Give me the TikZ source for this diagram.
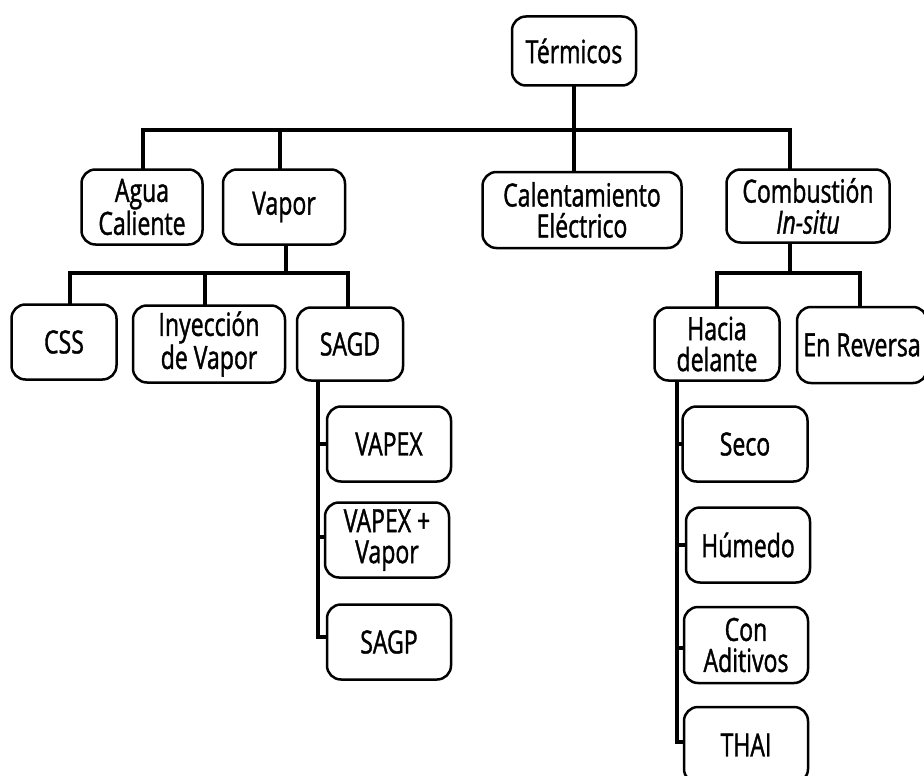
\documentclass[tikz,border=0pt]{standalone}
\usepackage{fontspec}
\setmainfont[FakeStretch=0.72, FakeBold=1.2]{Open Sans}
\begin{document}
\begin{tikzpicture}[x=1pt,y=-1pt,
  box/.style={draw, line width=2.5pt, rounded corners=14pt, align=center, inner sep=0pt,
    font=\fontsize{32}{31}\selectfont},
  conn/.style={line width=3.2pt, line cap=rect}]
\useasboundingbox (0,0) rectangle (924,776);

% top level
\node[box, minimum width=124pt, minimum height=69pt] (term) at (574,51) {Térmicos};

% second level
\node[box, minimum width=121pt, minimum height=75pt] (agua) at (142,207) {Agua\\Caliente};
\node[box, minimum width=122pt, minimum height=75pt] (vapor) at (284,207) {Vapor};
\node[box, minimum width=199pt, minimum height=76pt] (calent) at (582,210) {Calentamiento\\Eléctrico};
\node[box, minimum width=163pt, minimum height=73pt] (comb) at (808,206) {Combustión\\\textit{In-situ}};

% steam branch
\node[box, minimum width=105pt, minimum height=75pt] (css) at (64,342) {CSS};
\node[box, minimum width=152pt, minimum height=77pt] (iny) at (209,344) {Inyección\\de Vapor};
\node[box, minimum width=106pt, minimum height=73pt] (sagd) at (350,344) {SAGD};
\node[box, minimum width=124pt, minimum height=75pt] (vapex) at (389,444) {VAPEX};
\node[box, minimum width=124pt, minimum height=75pt] (vapexv) at (387,540) {VAPEX +\\Vapor};
\node[box, minimum width=124pt, minimum height=75pt] (sagp) at (389,642) {SAGP};

% combustion branch
\node[box, minimum width=125pt, minimum height=73pt] (hacia) at (717,344) {Hacia\\delante};
\node[box, minimum width=130pt, minimum height=76pt] (rev) at (862,345) {En Reversa};
\node[box, minimum width=125pt, minimum height=75pt] (seco) at (745,444) {Seco};
\node[box, minimum width=124pt, minimum height=75pt] (humedo) at (748,545) {Húmedo};
\node[box, minimum width=124pt, minimum height=76pt] (aditivos) at (746,645) {Con\\Aditivos};
\node[box, minimum width=124pt, minimum height=76pt] (thai) at (746,745) {THAI};

% connector levels
\coordinate (busA) at (0,130);
\coordinate (busB) at (0,273);
\coordinate (sl) at ([xshift=-32pt]sagd.south);
\coordinate (hl) at ([xshift=-40pt]hacia.south);

% first bus
\draw[conn] (term.south) -- (term.south |- calent.north);
\draw[conn] ([xshift=1pt]agua.north) -- ([xshift=1pt]agua.north |- busA)
  -- ([xshift=-18pt]comb.north |- busA) -- ([xshift=-18pt]comb.north);
\draw[conn] ([xshift=-4pt]vapor.north) -- ([xshift=-4pt]vapor.north |- busA);

% steam bus
\draw[conn] ([xshift=2pt]vapor.south) -- ([xshift=2pt]vapor.south |- busB);
\draw[conn] ([xshift=6pt]css.north) -- ([xshift=6pt]css.north |- busB)
  -- ([xshift=-2pt]sagd.north |- busB) -- ([xshift=-2pt]sagd.north);
\draw[conn] ([xshift=-4pt]iny.north) -- ([xshift=-4pt]iny.north |- busB);
\draw[conn] (sl) |- ([yshift=5pt]sagp.west);
\draw[conn] (vapex.west) -- (vapex.west -| sl);
\draw[conn] ([yshift=3pt]vapexv.west) -- ([yshift=3pt]vapexv.west -| sl);

% combustion bus
\draw[conn] ([xshift=-18pt]comb.south) -- ([xshift=-18pt]comb.south |- busB);
\draw[conn] (hacia.north) -- (hacia.north |- busB)
  -- ([xshift=-2pt]rev.north |- busB) -- ([xshift=-2pt]rev.north);
\draw[conn] (hl) |- ([yshift=3pt]thai.west);
\draw[conn] (seco.west) -- (seco.west -| hl);
\draw[conn] (humedo.west) -- (humedo.west -| hl);
\draw[conn] ([yshift=-3pt]aditivos.west) -- ([yshift=-3pt]aditivos.west -| hl);
\end{tikzpicture}
\end{document}
